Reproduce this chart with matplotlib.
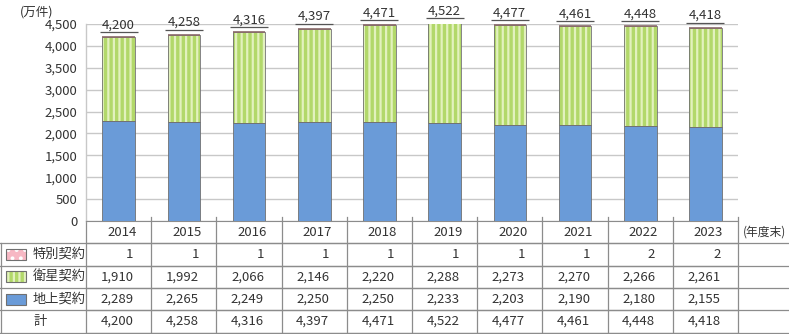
import matplotlib.pyplot as plt
import numpy as np
from matplotlib.patches import Rectangle
import matplotlib.transforms as mtrans

plt.rcParams['font.family'] = ['Noto Sans CJK JP', 'DejaVu Sans']
plt.rcParams['hatch.linewidth'] = 1.6

years = ['2014', '2015', '2016', '2017', '2018', '2019', '2020', '2021', '2022', '2023']
tokubetsu = [1, 1, 1, 1, 1, 1, 1, 1, 2, 2]
eisei = [1910, 1992, 2066, 2146, 2220, 2288, 2273, 2270, 2266, 2261]
chijo = [2289, 2265, 2249, 2250, 2250, 2233, 2203, 2190, 2180, 2155]
total = [4200, 4258, 4316, 4397, 4471, 4522, 4477, 4461, 4448, 4418]

blue = '#6A9BD8'
green = '#B2D86A'
green_stripe = '#E2F1BE'
pink = '#F7B8C4'
edge = '#707070'
grid_c = '#C8C8C8'
line_c = '#8C8C8C'
txt_c = '#333333'

fig = plt.figure(figsize=(7.89, 3.34), dpi=100)
ax = fig.add_axes([86 / 789, 113 / 334, 652 / 789, 197 / 334])

x = np.arange(len(years))
w = 0.5
chijo_a = np.array(chijo)
eisei_a = np.array(eisei)
toku_a = np.array(tokubetsu)

ax.bar(x, chijo_a, w, color=blue, edgecolor=edge, linewidth=0.6, zorder=3)
# striped satellite segment: hatch first, outline on top
ax.bar(x, eisei_a, w, bottom=chijo_a, color=green, edgecolor=green_stripe,
       linewidth=0, hatch='|||', zorder=3)
ax.bar(x, eisei_a, w, bottom=chijo_a, color='none', edgecolor=edge, linewidth=0.6, zorder=4)
ax.bar(x, toku_a, w, bottom=chijo_a + eisei_a, color=pink, edgecolor='#8A6A6A',
       linewidth=1.2, zorder=4)

# totals with a short line underneath
for i, v in enumerate(total):
    ax.text(i, v + 125, f'{v:,}', ha='center', va='bottom', fontsize=9.5, color=txt_c,
            clip_on=False)
    ax.plot([i - 0.29, i + 0.29], [v + 110, v + 110], color='#555555', lw=0.9,
            solid_capstyle='butt', zorder=5, clip_on=False)

ax.set_xlim(-0.5, len(years) - 0.5)
ax.set_ylim(0, 4500)
ax.set_yticks(np.arange(0, 4501, 500))
ax.set_yticklabels([f'{t:,}' for t in range(0, 4501, 500)], fontsize=9.5, color=txt_c)
ax.yaxis.grid(True, color=grid_c, lw=1.0, zorder=0)
ax.tick_params(axis='y', length=0, pad=6)
ax.set_xticks([])
for s in ['top', 'right']:
    ax.spines[s].set_visible(False)
ax.spines['left'].set_color(grid_c)
ax.spines['bottom'].set_color(line_c)
ax.spines['left'].set_linewidth(1.0)

fig.text(20 / 789, 1 - 12 / 334, '(万件)', fontsize=9, va='center', ha='left', color=txt_c)

# table below the bars
trans = mtrans.blended_transform_factory(ax.transData, ax.transAxes)
tfig = mtrans.blended_transform_factory(fig.transFigure, ax.transAxes)
row_edges = [0.0, -0.1117, -0.228, -0.340, -0.452, -0.5685]
lc = dict(color=line_c, lw=0.9, clip_on=False)

for yb in row_edges[1:]:
    ax.plot([0, 1], [yb, yb], transform=tfig, **lc)
    ax.plot([-0.5, len(years) - 0.5], [yb, yb], transform=trans, **lc)
ax.plot([0.5 / 789, 0.5 / 789], [row_edges[1], row_edges[-1]], transform=tfig, **lc)
for k in range(len(years) + 1):
    top = 0.0 if k == 0 else 0.02
    ax.plot([k - 0.5, k - 0.5], [top, row_edges[-1]], transform=trans, **lc)

rows = [tokubetsu, eisei, chijo, total]
row_names = ['特別契約', '衛星契約', '地上契約', '計']
mids = [(row_edges[j] + row_edges[j + 1]) / 2 for j in range(len(row_edges) - 1)]

for i, yr in enumerate(years):
    ax.text(i + 0.05, mids[0], yr, transform=trans, ha='center', va='center',
            fontsize=9.5, color=txt_c)
    for j, vals in enumerate(rows):
        ax.text(i + 0.23, mids[j + 1], f'{vals[i]:,}', transform=trans, ha='right',
                va='center', fontsize=9.5, color=txt_c)

ax.text(743 / 789, mids[0], '(年度末)', transform=tfig, ha='left', va='center',
        fontsize=8.5, color=txt_c)

sw_style = [dict(fc=pink, hatch='..', ec='white'),
            dict(fc=green, hatch='|||', ec=green_stripe),
            dict(fc=blue, hatch=None, ec=blue)]
sw_h = 11 / 197
for j, name in enumerate(row_names):
    ym = mids[j + 1]
    if j < 3:
        st = sw_style[j]
        ax.add_patch(Rectangle((6 / 789, ym - sw_h / 2), 20 / 789, sw_h, transform=tfig,
                               facecolor=st['fc'], edgecolor=st['ec'], hatch=st['hatch'],
                               lw=0, clip_on=False))
        ax.add_patch(Rectangle((6 / 789, ym - sw_h / 2), 20 / 789, sw_h, transform=tfig,
                               facecolor='none', edgecolor=edge, lw=0.8, clip_on=False))
        ax.text(33 / 789, ym, name, transform=tfig, ha='left', va='center',
                fontsize=9.5, color=txt_c)
    else:
        ax.text(40 / 789, ym, name, transform=tfig, ha='center', va='center',
                fontsize=9.5, color=txt_c)

fig.savefig('out.png', dpi=100)
